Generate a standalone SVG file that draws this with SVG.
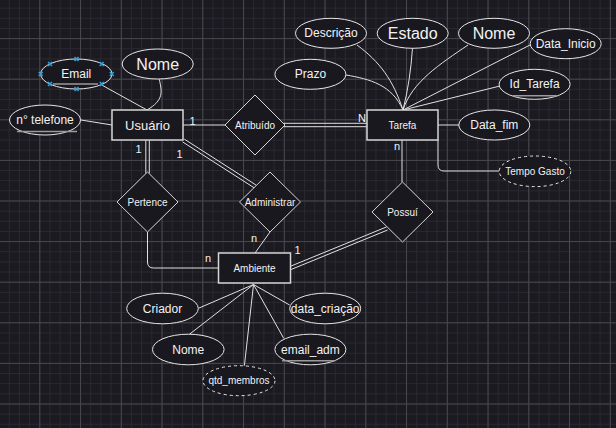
<svg xmlns="http://www.w3.org/2000/svg" width="616" height="428" viewBox="0 0 616 428">
<style>
text{font-family:"Liberation Sans",Arial,sans-serif;fill:#f2f2f2;text-anchor:middle;dominant-baseline:central}
.e{fill:#1a181f;stroke:#e6e6e6;stroke-width:1}
.d{stroke-dasharray:3 3}
.r{fill:#1a181f;stroke:#d6d6d6;stroke-width:1.5}
.c{fill:none;stroke:#e0e0e0;stroke-width:1}
.ul{stroke:#9a9a9a;stroke-width:1.5}
.s12{font-size:12px}.s16{font-size:16px}.s10{font-size:10px}.s13{font-size:13px}.s11{font-size:11px}
.hx{stroke:#2ea3e0;stroke-width:1.5}
</style>
<defs>
<pattern id="gmin" width="10.1875" height="10.15" patternUnits="userSpaceOnUse" x="-1.45" y="-2.5">
<path d="M0.5 0 V10.15 M0 0.5 H10.1875" stroke="#2a2830" stroke-width="1" fill="none" shape-rendering="crispEdges"/>
</pattern>
<pattern id="gmaj" width="40.75" height="40.6" patternUnits="userSpaceOnUse" x="-1.45" y="-2.5">
<path d="M0.5 0 V40.6 M0 0.5 H40.75" stroke="#48474e" stroke-width="1" fill="none" shape-rendering="crispEdges"/>
</pattern>
<g id="hxm"><path class="hx" d="M-2,-2 L2,2 M-2,2 L2,-2"/></g>
</defs>
<rect width="616" height="428" fill="#1b1a21"/>
<rect width="616" height="428" fill="url(#gmin)"/>
<rect width="616" height="428" fill="url(#gmaj)"/>

<g id="connectors">
<!-- Usuario - Atribuido -->
<path class="c" d="M183,125 H225"/>
<!-- Atribuido - Tarefa double -->
<path class="c" d="M283.5,123.3 H367 M283.5,126.7 H367"/>
<!-- Usuario - Pertence double -->
<path class="c" d="M145.8,140 V173.5 M149.3,140 V173.5"/>
<!-- Pertence - Ambiente -->
<path class="c" d="M147.5,232 V262 Q147.5,268 153.5,268 H218"/>
<!-- Usuario - Administrar double -->
<path class="c" d="M184.3,139.1 L256.1,185.1 M182.6,141.9 L254.3,187.9"/>
<!-- Administrar - Ambiente -->
<path class="c" d="M270,232 L255,253"/>
<!-- Tarefa - Possui -->
<path class="c" d="M402,140 V182"/>
<!-- Possui - Ambiente double -->
<path class="c" d="M289.9,266.5 L386.4,227 M291.1,269.5 L387.6,230"/>
<!-- Usuario attributes -->
<path class="c" d="M101.7,85 L147,110"/>
<path class="c" d="M159.3,79.3 C162,92 164,100 147,110"/>
<path class="c" d="M81,120 L112,125"/>
<!-- Tarefa attributes -->
<path class="c" d="M357,45 C380,62 393,80 403,110"/>
<path class="c" d="M412.5,48 C411,70 408,90 403,110"/>
<path class="c" d="M468,45 C440,64 412,82 403,110"/>
<path class="c" d="M530,45 L403,110"/>
<path class="c" d="M500,86 L403,110"/>
<path class="c" d="M346,75 C370,79 392,85 403,110"/>
<path class="c" d="M438,125 H459"/>
<path class="c" d="M438,140 V165 Q438,171 444,171 H499"/>
<!-- Ambiente attributes -->
<path class="c" d="M198.4,308.3 L253.5,284.5"/>
<path class="c" d="M189.4,334.3 L253.5,284.5"/>
<path class="c" d="M244.4,365.7 L253.5,284.5"/>
<path class="c" d="M283.7,338.3 L253.5,284.5"/>
<path class="c" d="M289.6,305 L253.5,284.5"/>
<!-- cardinalities -->
<text class="s11" x="192.5" y="120.5">1</text>
<text class="s11" x="362" y="117.5">N</text>
<text class="s11" x="138.5" y="148.5">1</text>
<text class="s11" x="179.5" y="153.5">1</text>
<text class="s11" x="254" y="237.5">n</text>
<text class="s11" x="208" y="258">n</text>
<text class="s11" x="297.5" y="250">1</text>
<text class="s11" x="397" y="146">n</text>
</g>

<g id="usuario"><rect class="r" x="112" y="110" width="71" height="30"/><text class="s13" x="147.5" y="125">Usuário</text></g>
<g id="tarefa"><rect class="r" x="367" y="110" width="71" height="30"/><text class="s10" x="402.5" y="125">Tarefa</text></g>
<g id="ambiente"><rect class="r" x="218.5" y="253" width="72" height="30"/><text class="s10" x="254.5" y="268">Ambiente</text></g>

<g id="atribuido"><polygon class="r" style="stroke-width:1" points="225,125 255,95 285,125 255,155"/><text class="s10" x="255" y="125">Atribuído</text></g>
<g id="pertence"><polygon class="r" style="stroke-width:1" points="117,202 147.5,172 178,202 147.5,232"/><text class="s10" x="147.5" y="202">Pertence</text></g>
<g id="administrar"><polygon class="r" style="stroke-width:1" points="239.5,202 270,172 300.5,202 270,232"/><text class="s10" x="270" y="202">Administrar</text></g>
<g id="possui"><polygon class="r" style="stroke-width:1" points="372,212 402.5,182 433,212 402.5,242"/><text class="s10" x="402.5" y="212">Possuí</text></g>

<g id="email"><ellipse class="e" cx="76.3" cy="74" rx="35.7" ry="15"/><line class="ul" x1="53" y1="84" x2="98" y2="84"/><text class="s12" x="76.3" y="74">Email</text>
<use href="#hxm" x="76.5" y="59"/><use href="#hxm" x="76.5" y="89"/><use href="#hxm" x="40.7" y="74"/><use href="#hxm" x="111.8" y="74"/>
<use href="#hxm" x="50" y="64"/><use href="#hxm" x="101.7" y="64"/><use href="#hxm" x="50" y="84"/><use href="#hxm" x="101.7" y="84"/></g>
<g id="nome-usuario"><ellipse class="e" cx="157.7" cy="64" rx="35.5" ry="15"/><text class="s16" x="157.7" y="64">Nome</text></g>
<g id="telefone"><ellipse class="e" cx="45" cy="120" rx="35.5" ry="15"/><line class="ul" x1="17" y1="131.5" x2="77" y2="131.5"/><text class="s12" x="45" y="120">n° telefone</text></g>

<g id="descricao"><ellipse class="e" cx="331" cy="33.3" rx="35.5" ry="15"/><text class="s12" x="331" y="33.3">Descrição</text></g>
<g id="estado"><ellipse class="e" cx="412.7" cy="33.3" rx="35.5" ry="15"/><text class="s16" x="412.7" y="33.3">Estado</text></g>
<g id="nome-tarefa"><ellipse class="e" cx="494" cy="33.3" rx="35.5" ry="15"/><text class="s16" x="494" y="33.3">Nome</text></g>
<g id="data-inicio"><ellipse class="e" cx="565.7" cy="43.7" rx="35.5" ry="15"/><text class="s12" x="565.7" y="43.7">Data_Inicio</text></g>
<g id="prazo"><ellipse class="e" cx="310.4" cy="74.3" rx="35.5" ry="15"/><text class="s12" x="310.4" y="74.3">Prazo</text></g>
<g id="id-tarefa"><ellipse class="e" cx="534.6" cy="84.3" rx="35.5" ry="15"/><line class="ul" x1="513" y1="95.8" x2="558" y2="95.8"/><text class="s12" x="534.6" y="84.3">Id_Tarefa</text></g>
<g id="data-fim"><ellipse class="e" cx="494.3" cy="125" rx="35.5" ry="15"/><text class="s12" x="494.3" y="125">Data_fim</text></g>
<g id="tempo-gasto"><ellipse class="e d" cx="535" cy="171.3" rx="35.8" ry="15.3"/><text class="s10" x="535" y="171.3">Tempo Gasto</text></g>

<g id="criador"><ellipse class="e" cx="162.5" cy="308.5" rx="35.8" ry="15.3"/><text class="s12" x="162.5" y="308.5">Criador</text></g>
<g id="data-criacao"><ellipse class="e" cx="325.2" cy="308.5" rx="35.5" ry="15.3"/><text class="s12" x="325.2" y="308.5">data_criação</text></g>
<g id="nome-ambiente"><ellipse class="e" cx="188.3" cy="349.5" rx="35.8" ry="15.3"/><text class="s12" x="188.3" y="349.5">Nome</text></g>
<g id="email-adm"><ellipse class="e" cx="310.4" cy="349.5" rx="35.5" ry="15.3"/><line class="ul" x1="282" y1="360.7" x2="335" y2="360.7"/><text class="s12" x="310.4" y="349.5">email_adm</text></g>
<g id="qtd-membros"><ellipse class="e d" cx="239" cy="380.7" rx="36" ry="15"/><text class="s10" x="239" y="380.7">qtd_membros</text></g>
</svg>
